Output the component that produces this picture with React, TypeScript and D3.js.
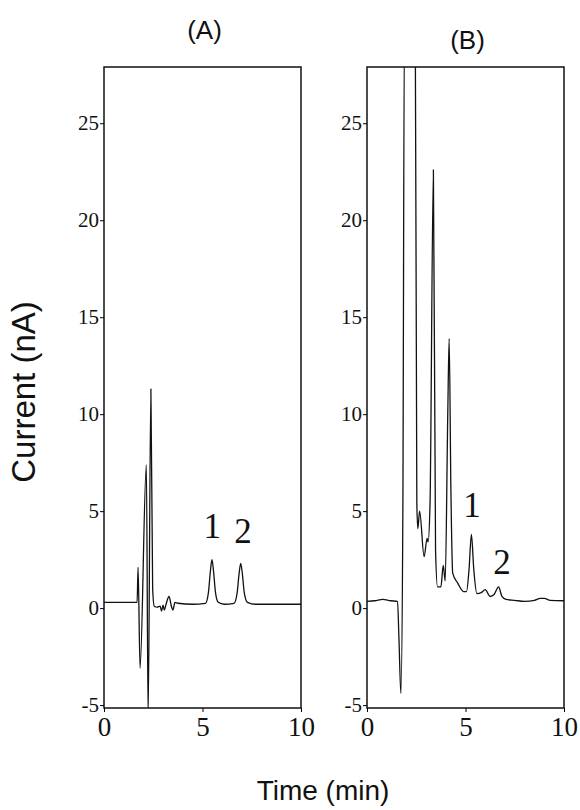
import React, { useEffect, useRef } from 'react';
import * as d3 from 'd3';

const W = 580;
const H = 810;

// chromatogram A: [time (min), current (nA)]
const traceA: [number, number][] = [
  [0, 0.3], [1.68, 0.3], [1.73, 2.1], [1.83, -3.1], [2.15, 7.4], [2.24, -5.6],
  [2.38, 11.3], [2.47, 1.0], [2.55, 0.1], [2.7, 0.05], [2.85, 0.1], [2.92, -0.15],
  [3.0, 0.15], [3.06, -0.1], [3.15, 0.2], [3.3, 0.6], [3.42, 0.1], [3.5, -0.1],
  [3.6, 0.3], [3.75, 0.25], [4.5, 0.2], [5.15, 0.25], [5.3, 0.8], [5.4, 1.9],
  [5.48, 2.5], [5.56, 1.9], [5.66, 0.8], [5.8, 0.3], [6.1, 0.2], [6.6, 0.25],
  [6.76, 0.8], [6.86, 1.8], [6.94, 2.3], [7.02, 1.8], [7.12, 0.8], [7.28, 0.3],
  [7.7, 0.2], [10, 0.2],
];

// chromatogram B
const traceB: [number, number][] = [
  [0, 0.35], [0.4, 0.38], [0.8, 0.45], [1.2, 0.38], [1.55, 0.35], [1.62, -1.5],
  [1.72, -4.4], [1.82, 5], [1.9, 30], [2.45, 30], [2.53, 5.4], [2.58, 4.1],
  [2.67, 5.0], [2.9, 2.65], [3.05, 3.6], [3.1, 3.4], [3.2, 5.4], [3.37, 22.6],
  [3.48, 3], [3.58, 1.1], [3.75, 1.1], [3.87, 2.2], [3.97, 1.4], [4.1, 10],
  [4.17, 13.9], [4.26, 6], [4.35, 1.8], [4.6, 1.3], [4.9, 0.85], [5.05, 0.85],
  [5.18, 2], [5.3, 3.8], [5.42, 2], [5.58, 0.75], [5.8, 0.8], [6.0, 0.95],
  [6.25, 0.6], [6.45, 0.7], [6.68, 1.1], [6.85, 0.6], [7.05, 0.45], [7.5, 0.4],
  [8.0, 0.35], [8.5, 0.4], [8.8, 0.5], [9.0, 0.5], [9.3, 0.4], [10, 0.38],
];

const peakLabelsA = [{ t: 5.5, c: 3.6, s: '1' }, { t: 7.06, c: 3.35, s: '2' }];
const peakLabelsB = [{ t: 5.33, c: 4.7, s: '1' }, { t: 6.85, c: 1.75, s: '2' }];

const xTicks = [0, 5, 10];
const yTicks = [-5, 0, 5, 10, 15, 20, 25];
const xDomain: [number, number] = [0, 10];
const yDomain: [number, number] = [-5.15, 27.9];

const panels = [
  { id: 'A', title: '(A)', left: 104, right: 301, titleY: 39, data: traceA, labels: peakLabelsA },
  { id: 'B', title: '(B)', left: 367, right: 564, titleY: 49, data: traceB, labels: peakLabelsB },
];

const App = () => {
  const ref = useRef<SVGSVGElement>(null);

  useEffect(() => {
    const svg = d3.select(ref.current);
    svg.selectAll('*').remove();

    const y = d3.scaleLinear().domain(yDomain).range([708, 67]);

    panels.forEach((p) => {
      const x = d3.scaleLinear().domain(xDomain).range([p.left, p.right]);
      const g = svg.append('g');

      g.append('clipPath').attr('id', 'clip' + p.id)
        .append('rect')
        .attr('x', p.left).attr('y', y(yDomain[1]))
        .attr('width', p.right - p.left).attr('height', y(yDomain[0]) - y(yDomain[1]));

      const line = d3.line<[number, number]>()
        .x((d) => x(d[0]))
        .y((d) => y(d[1]))
        .curve(d3.curveMonotoneX);

      g.append('path')
        .datum(p.data)
        .attr('clip-path', `url(#clip${p.id})`)
        .attr('fill', 'none')
        .attr('stroke', '#111')
        .attr('stroke-width', 1.3)
        .attr('stroke-linejoin', 'round')
        .attr('d', line);

      // frame
      g.append('rect')
        .attr('x', p.left).attr('y', y(yDomain[1]))
        .attr('width', p.right - p.left).attr('height', y(yDomain[0]) - y(yDomain[1]))
        .attr('fill', 'none').attr('stroke', '#111').attr('stroke-width', 1.5);

      const ya = g.append('g')
        .attr('transform', `translate(${p.left},0)`)
        .call(d3.axisLeft(y).tickValues(yTicks).tickSize(4).tickPadding(1).tickFormat((d) => String(d)));
      ya.select('.domain').remove();
      ya.selectAll('text').attr('font-family', '"Liberation Serif", serif').attr('font-size', 21).attr('fill', '#111');

      const xa = g.append('g')
        .attr('transform', `translate(0,${y(yDomain[0])})`)
        .call(d3.axisBottom(x).tickValues(xTicks).tickSize(4).tickPadding(5).tickFormat((d) => String(d)));
      xa.select('.domain').remove();
      xa.selectAll('text').attr('font-family', '"Liberation Serif", serif').attr('font-size', 27).attr('fill', '#111');

      g.selectAll('.peak')
        .data(p.labels)
        .enter()
        .append('text')
        .attr('x', (d) => x(d.t))
        .attr('y', (d) => y(d.c))
        .attr('text-anchor', 'middle')
        .attr('font-family', '"Liberation Serif", serif')
        .attr('font-size', 35)
        .attr('fill', '#111')
        .text((d) => d.s);

      g.append('text')
        .attr('x', (p.left + p.right) / 2 + 2)
        .attr('y', p.titleY)
        .attr('text-anchor', 'middle')
        .attr('font-family', '"Liberation Sans", Arial, sans-serif')
        .attr('font-size', 26)
        .attr('fill', '#111')
        .text(p.title);
    });

    svg.append('text')
      .attr('transform', 'translate(35,392) rotate(-90)')
      .attr('text-anchor', 'middle')
      .attr('font-family', '"Liberation Sans", Arial, sans-serif')
      .attr('font-size', 33)
      .attr('fill', '#111')
      .text('Current (nA)');

    svg.append('text')
      .attr('x', 323)
      .attr('y', 800)
      .attr('text-anchor', 'middle')
      .attr('font-family', '"Liberation Sans", Arial, sans-serif')
      .attr('font-size', 28)
      .attr('fill', '#111')
      .text('Time (min)');
  }, []);

  return (
    <svg ref={ref} width={W} height={H} style={{ position: 'absolute', left: 0, top: 0, background: '#fff' }} />
  );
};

export default App;
